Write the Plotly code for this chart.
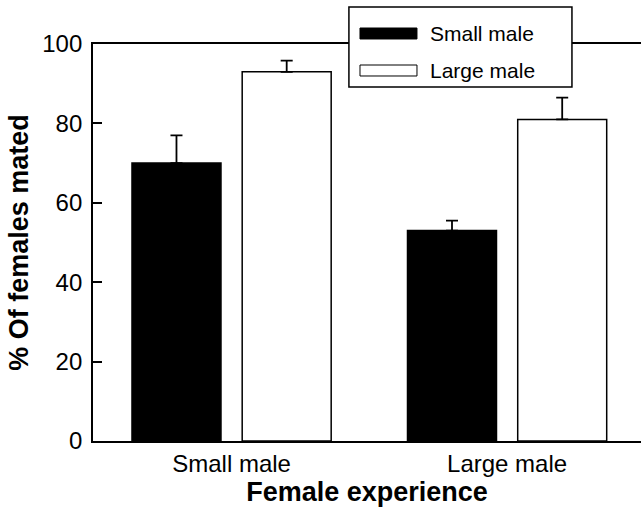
import plotly.graph_objects as go

categories = ["Small male", "Large male"]
series_names = ["Small male", "Large male"]
small_male_values = [70, 53]
small_male_err = [7, 2.5]
large_male_values = [93, 81]
large_male_err = [2.8, 5.5]
y_ticks = [0, 20, 40, 60, 80, 100]

FONT = "Liberation Sans, Arial, Helvetica, sans-serif"
BAR_W = 0.323

fig = go.Figure()
fig.add_trace(go.Bar(
    x=categories, y=small_male_values, name=series_names[0],
    width=BAR_W, offset=-0.3615,
    marker=dict(color="black", line=dict(color="black", width=1.5)),
    error_y=dict(type="data", symmetric=False, array=small_male_err,
                 arrayminus=[0, 0], color="black", thickness=1.8, width=6),
    showlegend=False,
))
fig.add_trace(go.Bar(
    x=categories, y=large_male_values, name=series_names[1],
    width=BAR_W, offset=0.0385,
    marker=dict(color="white", line=dict(color="black", width=1.5)),
    error_y=dict(type="data", symmetric=False, array=large_male_err,
                 arrayminus=[0, 0], color="black", thickness=1.8, width=6),
    showlegend=False,
))

# manual legend (box, swatches, labels)
shapes = [
    dict(type="rect", xref="paper", yref="paper", x0=0.467, x1=0.874, y0=0.892, y1=1.093,
         line=dict(color="black", width=1.5), fillcolor="white", layer="above"),
    dict(type="rect", xref="paper", yref="paper", x0=0.4872, x1=0.5912, y0=1.0126, y1=1.0403,
         line=dict(color="black", width=1), fillcolor="black", layer="above"),
    dict(type="rect", xref="paper", yref="paper", x0=0.4872, x1=0.5912, y0=0.9194, y1=0.9471,
         line=dict(color="black", width=1), fillcolor="white", layer="above"),
]
annotations = [
    dict(text=series_names[0], xref="paper", yref="paper", x=0.612, y=1.0277,
         xanchor="left", yanchor="middle", showarrow=False,
         font=dict(family=FONT, size=21, color="black")),
    dict(text=series_names[1], xref="paper", yref="paper", x=0.612, y=0.932,
         xanchor="left", yanchor="middle", showarrow=False,
         font=dict(family=FONT, size=21, color="black")),
]

fig.update_layout(
    width=641, height=512,
    margin=dict(l=93, r=0, t=44, b=71),
    paper_bgcolor="white", plot_bgcolor="white",
    barmode="overlay",
    font=dict(family=FONT, color="black"),
    shapes=shapes, annotations=annotations,
    showlegend=False,
    xaxis=dict(
        range=[-0.503, 1.486], showline=True, linecolor="black", linewidth=1.8,
        mirror=True, ticks="", showgrid=False, zeroline=False,
        tickfont=dict(family=FONT, size=24, color="black"),
        title=dict(text="<b>Female experience</b>", standoff=6,
                   font=dict(family=FONT, size=27, color="black")),
    ),
    yaxis=dict(
        range=[0, 100], tickvals=y_ticks, showline=True, linecolor="black",
        linewidth=1.8, ticks="inside", ticklen=9, tickwidth=1.5, tickcolor="black",
        showgrid=False, zeroline=False, ticklabelstandoff=4,
        tickfont=dict(family=FONT, size=24, color="black"),
        title=dict(text="<b>% Of females mated</b>", standoff=6,
                   font=dict(family=FONT, size=27, color="black")),
    ),
)

fig.write_html(
    "out.html",
    config={"displayModeBar": False},
    post_script="document.body.style.margin='0px';document.body.style.overflow='hidden';",
)
